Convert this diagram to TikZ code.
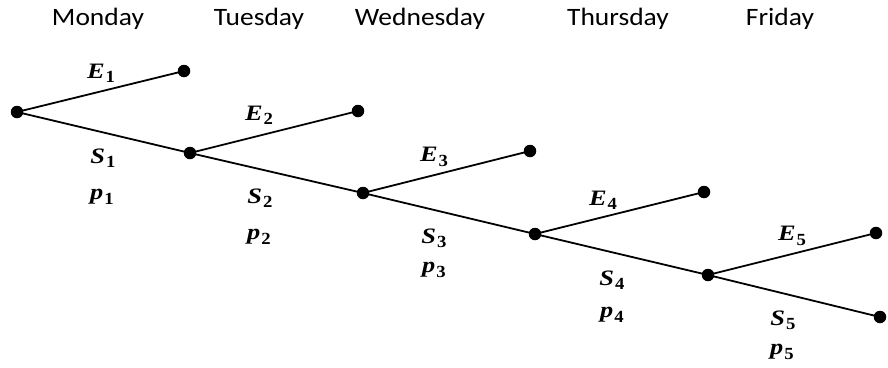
\documentclass[tikz,border=0pt]{standalone}
\usepackage{fontspec}
\setmainfont{Carlito}
\newfontfamily\labfont{Liberation Serif}
\newcommand{\lbl}[2]{\scalebox{1.2}[1]{\labfont\bfseries\itshape #1}\kern1pt\raisebox{-0.2em}{\labfont\bfseries\fontsize{17}{17}\selectfont\scalebox{1.1}[1]{#2}}}
\begin{document}
\begin{tikzpicture}[x=1pt,y=-1pt,
  dot/.style={circle,fill=black,inner sep=0pt,minimum size=12.5pt},
  edge/.style={line width=1.8pt},
  day/.style={font=\fontsize{25}{28}\selectfont,anchor=base},
  lab/.style={font=\fontsize{22}{26}\selectfont,inner sep=0pt}]
\useasboundingbox (0,0) rectangle (888,367);
% days
\node[day] (mon) at (98,25) {\scalebox{1.1}[1]{Monday}};
\node[day] (tue) at (259,25) {\scalebox{1.1}[1]{Tuesday}};
\node[day] (wed) at (420,25) {\scalebox{1.1}[1]{Wednesday}};
\node[day] (thu) at (618,25) {\scalebox{1.1}[1]{Thursday}};
\node[day] (fri) at (780,25) {\scalebox{1.1}[1]{Friday}};
% tree nodes
\node[dot] (r) at (17,112) {};
\node[dot] (n1) at (190,153) {};
\node[dot] (n2) at (363,193) {};
\node[dot] (n3) at (535,234) {};
\node[dot] (n4) at (708,275) {};
\node[dot] (s5) at (880,317) {};
\node[dot] (e1) at (184,71) {};
\node[dot] (e2) at (358,111) {};
\node[dot] (e3) at (530,151) {};
\node[dot] (e4) at (704,192) {};
\node[dot] (e5) at (876,233) {};
% connectors
\draw[edge] (r.center) -- (e1.center);
\draw[edge] (r.center) -- (n1.center);
\draw[edge] (n1.center) -- (e2.center);
\draw[edge] (n1.center) -- (n2.center);
\draw[edge] (n2.center) -- (e3.center);
\draw[edge] (n2.center) -- (n3.center);
\draw[edge] (n3.center) -- (e4.center);
\draw[edge] (n3.center) -- (n4.center);
\draw[edge] (n4.center) -- (e5.center);
\draw[edge] (n4.center) -- (s5.center);
% labels
\node[lab] (E1) at (101,73) {\lbl{E}{1}};
\node[lab] (S1) at (103,158) {\lbl{S}{1}};
\node[lab] (p1) at (102,197) {\lbl{p}{1}};
\node[lab] (E2) at (259,115) {\lbl{E}{2}};
\node[lab] (S2) at (260,198) {\lbl{S}{2}};
\node[lab] (p2) at (259,237) {\lbl{p}{2}};
\node[lab] (E3) at (434,157) {\lbl{E}{3}};
\node[lab] (S3) at (434,238) {\lbl{S}{3}};
\node[lab] (p3) at (434,270) {\lbl{p}{3}};
\node[lab] (E4) at (603,200) {\lbl{E}{4}};
\node[lab] (S4) at (612,280) {\lbl{S}{4}};
\node[lab] (p4) at (612,315) {\lbl{p}{4}};
\node[lab] (E5) at (792,236) {\lbl{E}{5}};
\node[lab] (S5) at (783,320) {\lbl{S}{5}};
\node[lab] (p5) at (782,352) {\lbl{p}{5}};
\end{tikzpicture}
\end{document}
